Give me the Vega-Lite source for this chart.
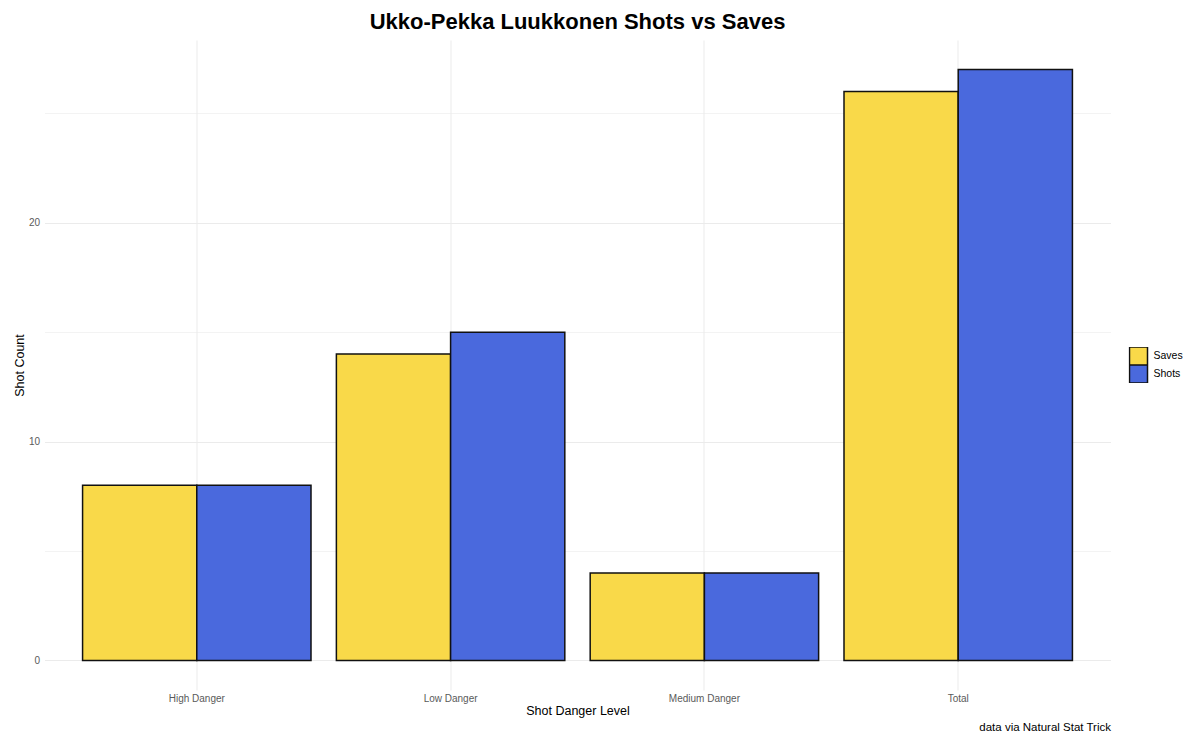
{"$schema":"https://vega.github.io/schema/vega-lite/v6.json","width":1066,"height":650,"autosize":"none","padding":{"left":44.5,"top":40,"right":89.5,"bottom":60},"background":"white","config":{"view":{"stroke":null},"font":"Liberation Sans"},"title":{"text":"Ukko-Pekka Luukkonen Shots vs Saves","font":"Liberation Sans","fontSize":22,"fontWeight":"bold","color":"#000000","anchor":"middle","frame":"group","offset":6},"data":{"values":[{"danger":"High Danger","type":"Saves","count":8},{"danger":"High Danger","type":"Shots","count":8},{"danger":"Low Danger","type":"Saves","count":14},{"danger":"Low Danger","type":"Shots","count":15},{"danger":"Medium Danger","type":"Saves","count":4},{"danger":"Medium Danger","type":"Shots","count":4},{"danger":"Total","type":"Saves","count":26},{"danger":"Total","type":"Shots","count":27}]},"resolve":{"scale":{"x":"independent"},"axis":{"x":"independent"}},"layer":[{"mark":{"type":"bar","stroke":"#111111","strokeWidth":1.5,"opacity":1,"clip":true},"encoding":{"x":{"field":"danger","type":"nominal","scale":{"paddingInner":0.1,"paddingOuter":0.15},"axis":{"title":"Shot Danger Level","titleFontSize":12.5,"titleFontWeight":"normal","titleColor":"#000000","titlePadding":1,"labelAngle":0,"labelFontSize":10,"labelColor":"#5a5a5a","labelPadding":3,"ticks":false,"domain":false,"grid":true,"gridColor":"#ebebeb","gridWidth":1}},"xOffset":{"field":"type","type":"nominal","scale":{"paddingInner":0,"paddingOuter":0}},"y":{"field":"count","type":"quantitative","scale":{"domain":[-1.35,28.35],"nice":false,"zero":false},"axis":{"title":"Shot Count","titleFontSize":12.5,"titleFontWeight":"normal","titleColor":"#000000","titlePadding":2,"values":[0,5,10,15,20,25],"labelExpr":"datum.value % 10 === 0 ? datum.label : ''","labelFontSize":10,"labelColor":"#5a5a5a","labelPadding":5,"ticks":false,"domain":false,"grid":true,"gridColor":"#ebebeb","gridWidth":{"expr":"datum.value % 10 === 0 ? 1 : 0.6"}}},"y2":{"datum":0},"fill":{"field":"type","type":"nominal","scale":{"domain":["Saves","Shots"],"range":["#F9D949","#4A69DD"]},"legend":{"title":null,"orient":"none","legendX":1084,"legendY":307,"symbolType":"square","symbolSize":324,"symbolStrokeColor":"#111111","symbolStrokeWidth":1.5,"symbolOpacity":1,"labelFontSize":10.5,"labelColor":"#000000","labelOffset":5,"rowPadding":0,"clipHeight":18}}}},{"mark":{"type":"rule","opacity":0},"encoding":{"x":{"field":"danger","type":"nominal","axis":{"orient":"bottom","title":"data via Natural Stat Trick","titleFontSize":11.5,"titleFontWeight":"normal","titleColor":"#000000","titleAnchor":"end","titleAlign":"right","labels":false,"ticks":false,"domain":false,"grid":false,"titlePadding":31}}}}]}
